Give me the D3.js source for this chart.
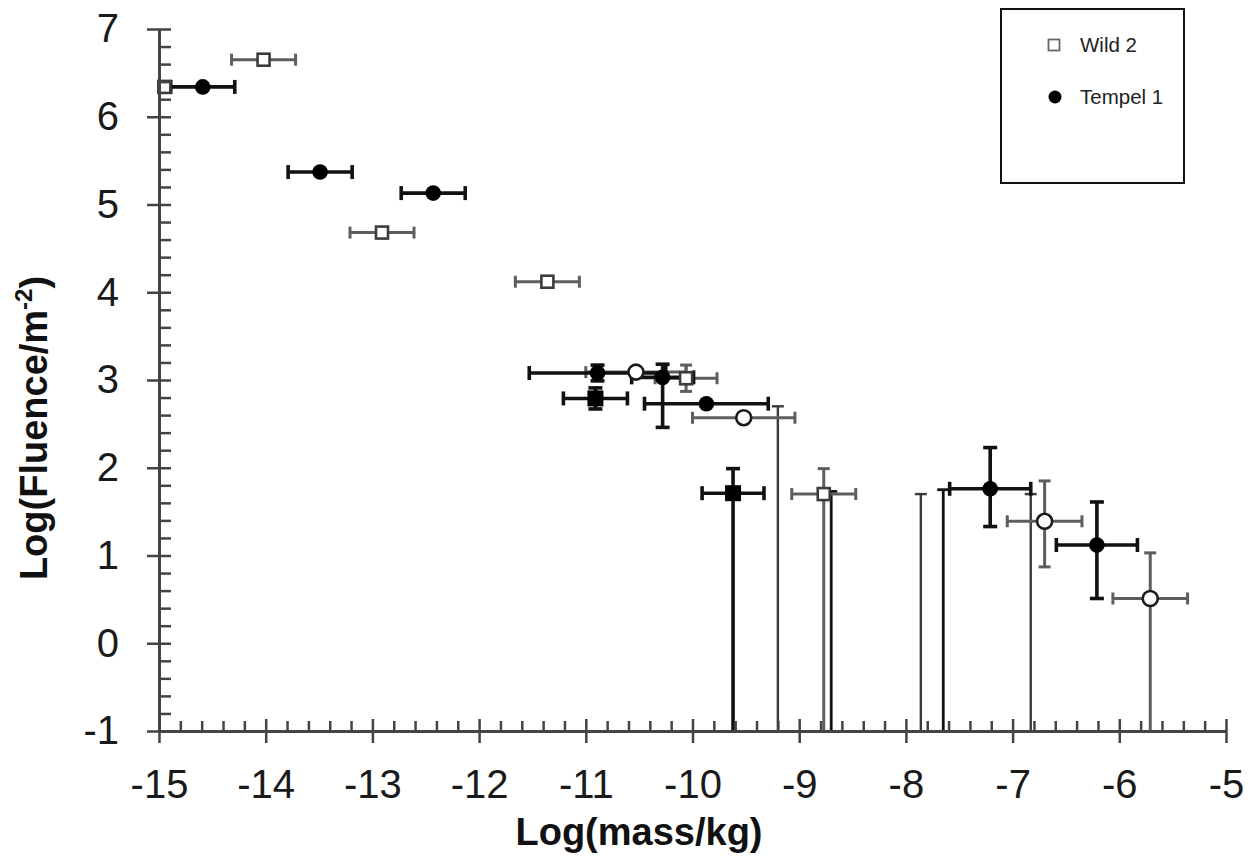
<!DOCTYPE html>
<html>
<head>
<meta charset="utf-8">
<script src="https://cdn.jsdelivr.net/npm/d3@7"></script>
<style>
  body { margin: 0; background: #fff; }
  svg { display: block; font-family: 'Liberation Sans', Arial, sans-serif; }
</style>
</head>
<body>
<svg></svg>
<script>
// tick labels
const xTicks = [-15, -14, -13, -12, -11, -10, -9, -8, -7, -6, -5]
const yTicks = [-1, 0, 1, 2, 3, 4, 5, 6, 7]

// Wild 2, drawn as open squares
const w2sMass = [-14.95, -14.02, -12.91, -11.36, -10.06, -8.77]
const w2sFluence = [6.34, 6.65, 4.68, 4.12, 3.02, 1.70]
const w2sMassErr = [0, 0.30, 0.30, 0.30, 0.29, 0.30]
const w2sHigh = [null, null, null, null, 3.17, 1.99]
const w2sLow = [null, null, null, null, 2.87, -1]

// Wild 2, drawn as open circles
const w2cMass = [-10.53, -9.52, -6.70, -5.71]
const w2cFluence = [3.09, 2.57, 1.39, 0.51]
const w2cMassErr = [0.47, 0.48, 0.35, 0.35]
const w2cHigh = [null, null, 1.85, 1.03]
const w2cLow = [null, null, 0.87, -1]

// Tempel 1, filled circles
const t1cMass = [-14.59, -13.49, -12.43, -10.89, -10.28, -9.87, -7.21, -6.21]
const t1cFluence = [6.34, 5.37, 5.13, 3.08, 3.03, 2.73, 1.76, 1.12]
const t1cMassErr = [0.30, 0.30, 0.30, 0.64, 0.29, 0.58, 0.38, 0.38]
const t1cHigh = [null, null, null, 3.17, 3.18, null, 2.23, 1.61]
const t1cLow = [null, null, null, 2.99, 2.46, null, 1.33, 0.51]

// Tempel 1, filled squares
const t1sMass = [-10.91, -9.62]
const t1sFluence = [2.79, 1.71]
const t1sMassErr = [0.30, 0.29]
const t1sHigh = [2.91, 1.99]
const t1sLow = [2.67, -1]

// upper limits (bar from the floor up to a cap)
const w2LimitMass = [-9.20, -7.86, -6.83]
const w2LimitTop = [2.70, 1.70, 1.70]
const t1LimitMass = [-8.70, -7.65]
const t1LimitTop = [1.73, 1.75]

const zip = (mass, fluence, err, high, low) =>
  mass.map((m, i) => ({ x: m, y: fluence[i], xErr: err[i], high: high[i], low: low[i] }))

const wild2Squares = zip(w2sMass, w2sFluence, w2sMassErr, w2sHigh, w2sLow)
const wild2Circles = zip(w2cMass, w2cFluence, w2cMassErr, w2cHigh, w2cLow)
const tempelCircles = zip(t1cMass, t1cFluence, t1cMassErr, t1cHigh, t1cLow)
const tempelSquares = zip(t1sMass, t1sFluence, t1sMassErr, t1sHigh, t1sLow)

const svgWidth = 1257
const svgHeight = 864

const svg = d3.select('svg')
  .attr('width', svgWidth)
  .attr('height', svgHeight)

const x = d3.scaleLinear().domain([-15, -5]).range([159, 1226])
const y = d3.scaleLinear().domain([-1, 7]).range([731, 29])

const wildStyle = { color: '#5e5e5e', width: 3, cap: 6 }
const tempelStyle = { color: '#111', width: 3.6, cap: 7 }

const bars = svg.append('g').attr('id', 'bars')
const marks = svg.append('g').attr('id', 'marks')

const drawBars = (data, st) => {
  const g = bars.append('g')
    .attr('stroke', st.color)
    .attr('stroke-width', st.width)
    .attr('fill', 'none')

  data.filter(d => d.xErr > 0).forEach(d => {
    const x0 = x(d.x - d.xErr)
    const x1 = x(d.x + d.xErr)
    const yy = y(d.y)
    g.append('line').attr('x1', x0).attr('x2', x1).attr('y1', yy).attr('y2', yy)
    g.append('line').attr('x1', x0).attr('x2', x0).attr('y1', yy - st.cap).attr('y2', yy + st.cap)
    g.append('line').attr('x1', x1).attr('x2', x1).attr('y1', yy - st.cap).attr('y2', yy + st.cap)
  })

  data.filter(d => d.high !== null).forEach(d => {
    const xx = x(d.x)
    g.append('line').attr('x1', xx).attr('x2', xx).attr('y1', y(d.high)).attr('y2', y(d.low))
    g.append('line').attr('x1', xx - st.cap).attr('x2', xx + st.cap)
      .attr('y1', y(d.high)).attr('y2', y(d.high))
    if (d.low > -1) {
      g.append('line').attr('x1', xx - st.cap).attr('x2', xx + st.cap)
        .attr('y1', y(d.low)).attr('y2', y(d.low))
    }
  })
}

const drawLimits = (mass, top, color, w, cap) => {
  const g = bars.append('g')
    .attr('stroke', color)
    .attr('stroke-width', w)
  mass.forEach((m, i) => {
    g.append('line').attr('x1', x(m)).attr('x2', x(m)).attr('y1', y(top[i])).attr('y2', y(-1))
    g.append('line').attr('x1', x(m) - cap).attr('x2', x(m) + cap)
      .attr('y1', y(top[i])).attr('y2', y(top[i]))
  })
}

drawLimits(w2LimitMass, w2LimitTop, '#3a3a3a', 2.4, 6)
drawLimits(t1LimitMass, t1LimitTop, '#111', 2.8, 6)
drawBars(wild2Squares, wildStyle)
drawBars(wild2Circles, wildStyle)
drawBars(tempelSquares, tempelStyle)
drawBars(tempelCircles, tempelStyle)

marks.selectAll('rect.w2')
  .data(wild2Squares)
  .join('rect')
  .classed('w2', true)
  .attr('x', d => x(d.x) - 6)
  .attr('y', d => y(d.y) - 6)
  .attr('width', 12)
  .attr('height', 12)
  .attr('fill', '#fff')
  .attr('stroke', '#3c3c3c')
  .attr('stroke-width', 2.6)

marks.selectAll('circle.w2')
  .data(wild2Circles)
  .join('circle')
  .classed('w2', true)
  .attr('cx', d => x(d.x))
  .attr('cy', d => y(d.y))
  .attr('r', 7.5)
  .attr('fill', '#fff')
  .attr('stroke', '#1c1c1c')
  .attr('stroke-width', 2.6)

marks.selectAll('rect.t1')
  .data(tempelSquares)
  .join('rect')
  .classed('t1', true)
  .attr('x', d => x(d.x) - 8)
  .attr('y', d => y(d.y) - 8)
  .attr('width', 16)
  .attr('height', 16)
  .attr('fill', '#000')

marks.selectAll('circle.t1')
  .data(tempelCircles)
  .join('circle')
  .classed('t1', true)
  .attr('cx', d => x(d.x))
  .attr('cy', d => y(d.y))
  .attr('r', 7.8)
  .attr('fill', '#000')

// axes
const axisColor = '#444'
const minorX = d3.range(-15, -5, 0.2).filter((_, i) => i % 5 !== 0)
const minorY = d3.range(-1, 7, 0.2).filter((_, i) => i % 5 !== 0)

const xMinor = svg.append('g')
  .attr('transform', `translate(0, ${y(-1)})`)
  .call(d3.axisBottom(x).tickValues(minorX).tickSize(-10).tickSizeOuter(0).tickFormat(''))
const yMinor = svg.append('g')
  .attr('transform', `translate(${x(-15)}, 0)`)
  .call(d3.axisLeft(y).tickValues(minorY).tickSize(-12).tickSizeOuter(0).tickFormat(''))

const xAxis = svg.append('g')
  .attr('transform', `translate(0, ${y(-1)})`)
  .call(d3.axisBottom(x).tickValues(xTicks).tickSize(12).tickSizeOuter(0)
    .tickPadding(27).tickFormat(d => String(d)))
const yAxis = svg.append('g')
  .attr('transform', `translate(${x(-15)}, 0)`)
  .call(d3.axisLeft(y).tickValues(yTicks).tickSize(12).tickSizeOuter(0)
    .tickPadding(28).tickFormat(d => String(d)))

xAxis.selectAll('.tick line').attr('y1', -12)
yAxis.selectAll('.tick line').attr('x1', 12)

;[xMinor, yMinor, xAxis, yAxis].forEach(a => {
  a.selectAll('line').attr('stroke', axisColor).attr('stroke-width', 2.5)
  a.select('.domain').attr('stroke', axisColor).attr('stroke-width', 2.8)
  a.selectAll('text')
    .attr('fill', '#1a1a1a')
    .style('font-size', '40px')
    .style('font-family', "'Liberation Sans', Arial, sans-serif")
})

svg.append('text')
  .attr('x', 639)
  .attr('y', 845)
  .attr('text-anchor', 'middle')
  .style('font-size', '38px')
  .style('font-weight', 'bold')
  .attr('fill', '#111')
  .text('Log(mass/kg)')

const yTitle = svg.append('text')
  .attr('transform', 'translate(47, 428) rotate(-90)')
  .attr('text-anchor', 'middle')
  .style('font-size', '38px')
  .style('font-weight', 'bold')
  .attr('fill', '#111')
yTitle.append('tspan').text('Log(Fluence/m')
yTitle.append('tspan').attr('dy', -15).style('font-size', '24px').text('-2')
yTitle.append('tspan').attr('dy', 15).text(')')

// legend
const legend = svg.append('g').attr('id', 'legend')
legend.append('rect')
  .attr('x', 1001)
  .attr('y', 9)
  .attr('width', 183)
  .attr('height', 174)
  .attr('fill', '#fff')
  .attr('stroke', '#111')
  .attr('stroke-width', 2)

const legendItems = ['Wild 2', 'Tempel 1']
const legendRow = legend.selectAll('g.item')
  .data(legendItems)
  .join('g')
  .classed('item', true)
  .attr('transform', (_, i) => `translate(1054, ${45 + i * 52})`)

legendRow.filter((_, i) => i === 0).append('rect')
  .attr('x', -5.5).attr('y', -5.5).attr('width', 11).attr('height', 11)
  .attr('fill', '#fff').attr('stroke', '#666').attr('stroke-width', 1.8)
legendRow.filter((_, i) => i === 1).append('circle')
  .attr('cx', 1).attr('r', 6.5).attr('fill', '#000')

legendRow.append('text')
  .text(d => d)
  .attr('x', 26)
  .attr('dy', '0.36em')
  .style('font-size', '20.5px')
  .attr('fill', '#222')
</script>
</body>
</html>
